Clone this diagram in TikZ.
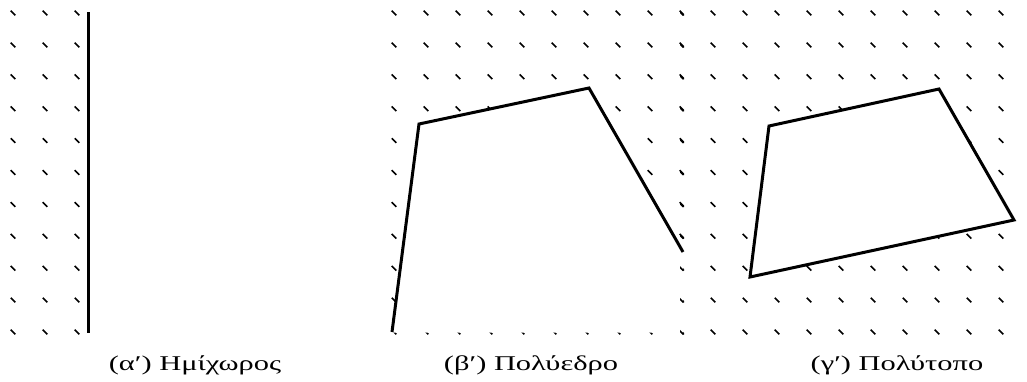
\documentclass[tikz,border=0pt]{standalone}
\usepackage{fontspec}
\newfontfamily\grfont[FakeStretch=1.45]{Liberation Serif}
\begin{document}
\begin{tikzpicture}[x=1pt, y=-1pt]
  \tikzset{
    tracinho/.style={line width=1.6pt},
    borda/.style={line width=3pt, line join=miter},
    legenda/.style={font=\grfont\fontsize{21}{24}\selectfont, anchor=base, inner sep=0pt}
  }
  \useasboundingbox (0,0) rectangle (1027,381);

  % Espaçamento do padrão
  \def\dx{32}
  \def\dy{31.9}

  % (a) Semiespaço
  \begin{scope}
    \clip (5,8) rectangle (88,334);
    \foreach \i in {0,...,2}
      \foreach \j in {0,...,10}
        \draw[tracinho] ({13+\dx*\i-2.3},{13+\dy*\j-2.3}) -- ++(4.6,4.6);
  \end{scope}
  \coordinate (a1) at (88,12);
  \coordinate (a2) at (88,333);
  \draw[borda] (a1) -- (a2);

  % (b) Poliedro
  \coordinate (b1) at (392,332);
  \coordinate (b2) at (419,124);
  \coordinate (b3) at (589,88);
  \coordinate (b4) at (683,252);
  \begin{scope}
    \clip (389,8) rectangle (684,334);
    \foreach \i in {0,...,9}
      \foreach \j in {0,...,10}
        \draw[tracinho] ({394+\dx*\i-2.3},{13+\dy*\j-2.3}) -- ++(4.6,4.6);
  \end{scope}
  \fill[white] (391,332.6) -- (b1) -- (b2) -- (b3) -- (b4) -- (683,332.6) -- cycle;
  \draw[borda] (b1) -- (b2) -- (b3) -- (b4);

  % (c) Politopo
  \coordinate (c1) at (769,126);
  \coordinate (c2) at (939,89);
  \coordinate (c3) at (1014,220);
  \coordinate (c4) at (750,277);
  \begin{scope}
    \clip (680,8) rectangle (1020,334);
    \foreach \i in {0,...,10}
      \foreach \j in {0,...,10}
        \draw[tracinho] ({681+\dx*\i-2.3},{13+\dy*\j-2.3}) -- ++(4.6,4.6);
  \end{scope}
  \fill[white] (c1) -- (c2) -- (c3) -- (c4) -- cycle;
  \draw[borda] (c1) -- (c2) -- (c3) -- (c4) -- cycle;

  % Legendas
  \node[legenda] (legA) at (195,370) {(αʹ) Ημίχωρος};
  \node[legenda] (legB) at (531,370) {(βʹ) Πολύεδρο};
  \node[legenda] (legC) at (897,370) {(γʹ) Πολύτοπο};

\end{tikzpicture}
\end{document}
